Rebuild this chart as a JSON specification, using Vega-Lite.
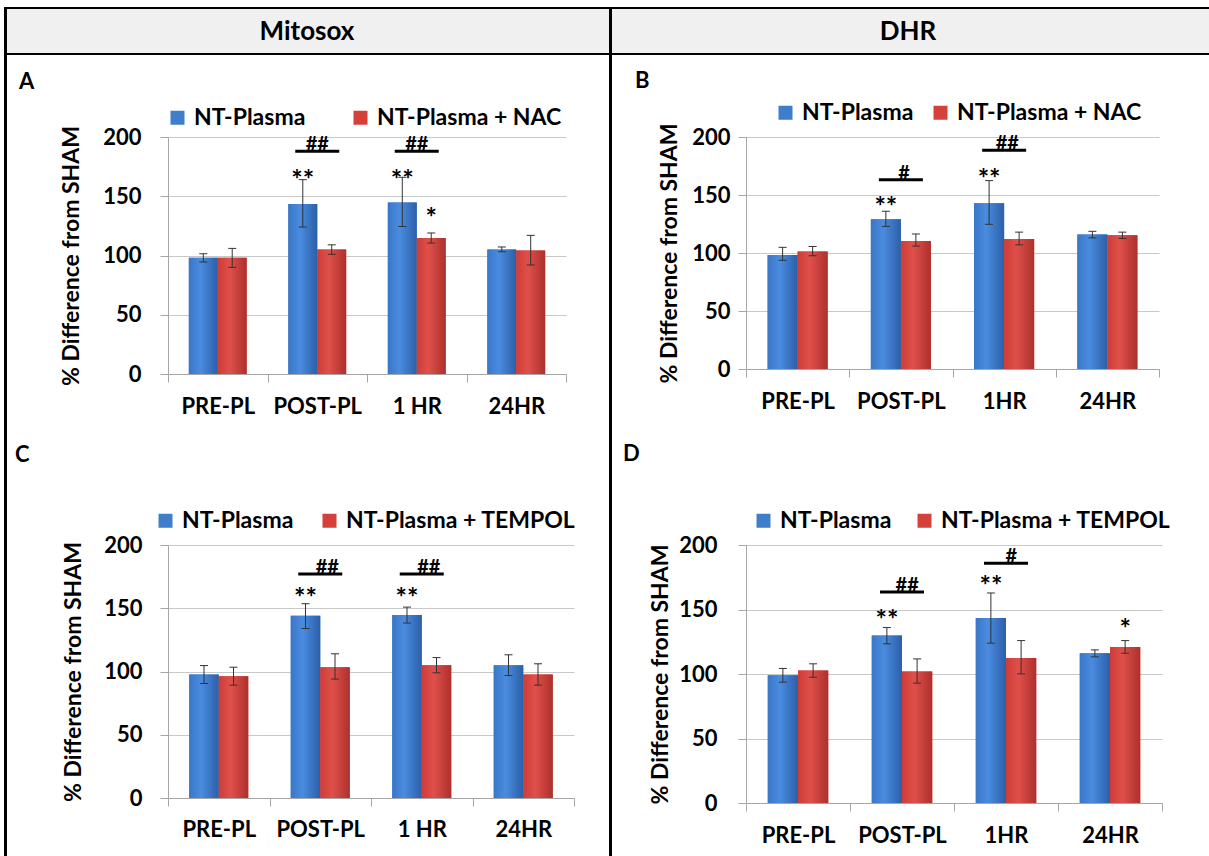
{
"$schema": "https://vega.github.io/schema/vega-lite/v6.json",
"padding": {"left": 4, "top": 2, "right": 0, "bottom": 0},
"background": "white",
"config": {
  "font": "Lato",
  "view": {"stroke": null},
  "axis": {"labelFont": "Lato", "titleFont": "Lato", "labelFontWeight": "bold", "titleFontWeight": "bold", "labelColor": "#000", "titleColor": "#000", "domainColor": "#a6a6a6", "tickColor": "#a6a6a6", "gridColor": "#c8c8c8"},
  "legend": {"labelFont": "Lato", "labelFontWeight": "bold", "labelColor": "#000", "labelLimit": 400},
  "title": {"font": "Lato", "fontWeight": "bold", "color": "#000"},
  "tick": {"opacity": 1}
},
"columns": 8,
"spacing": 0,
"bounds": "flush",
"align": "each",
"resolve": {"scale": {"color": "independent", "xOffset": "independent", "x": "independent", "y": "independent"}, "legend": {"color": "independent"}},
"concat": [
  {"width": 3, "height": 2, "view": {"fill": "#000"}, "data": {"values": [{}]}, "mark": {"type": "text", "text": ""}, "encoding": {}},
  {"width": 161, "height": 2, "view": {"fill": "#000"}, "data": {"values": [{}]}, "mark": {"type": "text", "text": ""}, "encoding": {}},
  {"width": 406, "height": 2, "view": {"fill": "#000"}, "data": {"values": [{}]}, "mark": {"type": "text", "text": ""}, "encoding": {}},
  {"width": 35, "height": 2, "view": {"fill": "#000"}, "data": {"values": [{}]}, "mark": {"type": "text", "text": ""}, "encoding": {}},
  {"width": 3, "height": 2, "view": {"fill": "#000"}, "data": {"values": [{}]}, "mark": {"type": "text", "text": ""}, "encoding": {}},
  {"width": 134, "height": 2, "view": {"fill": "#000"}, "data": {"values": [{}]}, "mark": {"type": "text", "text": ""}, "encoding": {}},
  {"width": 416, "height": 2, "view": {"fill": "#000"}, "data": {"values": [{}]}, "mark": {"type": "text", "text": ""}, "encoding": {}},
  {"width": 48, "height": 2, "view": {"fill": "#000"}, "data": {"values": [{}]}, "mark": {"type": "text", "text": ""}, "encoding": {}},

  {"width": 3, "height": 44, "view": {"fill": "#000"}, "data": {"values": [{}]}, "mark": {"type": "text", "text": ""}, "encoding": {}},
  {"width": 161, "height": 44, "view": {"fill": "#f0f0f0"}, "data": {"values": [{}]}, "mark": {"type": "text", "text": ""}, "encoding": {}},
  {"width": 406, "height": 44, "view": {"fill": "#f0f0f0"}, "data": {"values": [{"t": "Mitosox"}]}, "mark": {"type": "text", "fontSize": 26, "fontWeight": "bold", "baseline": "middle", "color": "#000", "dx": -64, "dy": 1}, "encoding": {"text": {"field": "t"}}},
  {"width": 35, "height": 44, "view": {"fill": "#f0f0f0"}, "data": {"values": [{}]}, "mark": {"type": "text", "text": ""}, "encoding": {}},
  {"width": 3, "height": 44, "view": {"fill": "#000"}, "data": {"values": [{}]}, "mark": {"type": "text", "text": ""}, "encoding": {}},
  {"width": 134, "height": 44, "view": {"fill": "#f0f0f0"}, "data": {"values": [{}]}, "mark": {"type": "text", "text": ""}, "encoding": {}},
  {"width": 416, "height": 44, "view": {"fill": "#f0f0f0"}, "data": {"values": [{"t": "DHR"}]}, "mark": {"type": "text", "fontSize": 26, "fontWeight": "bold", "baseline": "middle", "color": "#000", "dx": -46, "dy": 1}, "encoding": {"text": {"field": "t"}}},
  {"width": 48, "height": 44, "view": {"fill": "#f0f0f0"}, "data": {"values": [{}]}, "mark": {"type": "text", "text": ""}, "encoding": {}},

  {"width": 3, "height": 2, "view": {"fill": "#000"}, "data": {"values": [{}]}, "mark": {"type": "text", "text": ""}, "encoding": {}},
  {"width": 161, "height": 2, "view": {"fill": "#000"}, "data": {"values": [{}]}, "mark": {"type": "text", "text": ""}, "encoding": {}},
  {"width": 406, "height": 2, "view": {"fill": "#000"}, "data": {"values": [{}]}, "mark": {"type": "text", "text": ""}, "encoding": {}},
  {"width": 35, "height": 2, "view": {"fill": "#000"}, "data": {"values": [{}]}, "mark": {"type": "text", "text": ""}, "encoding": {}},
  {"width": 3, "height": 2, "view": {"fill": "#000"}, "data": {"values": [{}]}, "mark": {"type": "text", "text": ""}, "encoding": {}},
  {"width": 134, "height": 2, "view": {"fill": "#000"}, "data": {"values": [{}]}, "mark": {"type": "text", "text": ""}, "encoding": {}},
  {"width": 416, "height": 2, "view": {"fill": "#000"}, "data": {"values": [{}]}, "mark": {"type": "text", "text": ""}, "encoding": {}},
  {"width": 48, "height": 2, "view": {"fill": "#000"}, "data": {"values": [{}]}, "mark": {"type": "text", "text": ""}, "encoding": {}},

  {"width": 3, "height": 82, "view": {"fill": "#000"}, "data": {"values": [{}]}, "mark": {"type": "text", "text": ""}, "encoding": {}},
  {"width": 161, "height": 82, "data": {"values": [{}]}, "mark": {"type": "text", "text": ""}, "encoding": {}},
  {"width": 406, "height": 82, "data": {"values": [{}]}, "mark": {"type": "text", "text": ""}, "encoding": {}},
  {"width": 35, "height": 82, "data": {"values": [{}]}, "mark": {"type": "text", "text": ""}, "encoding": {}},
  {"width": 3, "height": 82, "view": {"fill": "#000"}, "data": {"values": [{}]}, "mark": {"type": "text", "text": ""}, "encoding": {}},
  {"width": 134, "height": 82, "data": {"values": [{}]}, "mark": {"type": "text", "text": ""}, "encoding": {}},
  {"width": 416, "height": 82, "data": {"values": [{}]}, "mark": {"type": "text", "text": ""}, "encoding": {}},
  {"width": 48, "height": 82, "data": {"values": [{}]}, "mark": {"type": "text", "text": ""}, "encoding": {}},

  {"width": 3, "height": 237, "view": {"fill": "#000"}, "data": {"values": [{}]}, "mark": {"type": "text", "text": ""}, "encoding": {}},
  {"width": 161, "height": 237, "data": {"values": [{}]}, "mark": {"type": "text", "text": ""}, "encoding": {}},
  {"width": 398, "height": 237,
   "title": {"text": "A", "anchor": "start", "frame": "group", "dx": -149, "dy": -12, "fontSize": 22, "offset": 0},
   "data": {"values": [
     {"cat":"PRE-PL","series":"NT-Plasma","v":98,"lo":94.5,"hi":101.5},
     {"cat":"PRE-PL","series":"NT-Plasma + NAC","v":98,"lo":90,"hi":106},
     {"cat":"POST-PL","series":"NT-Plasma","v":143.5,"lo":124,"hi":164},
     {"cat":"POST-PL","series":"NT-Plasma + NAC","v":105,"lo":101,"hi":109},
     {"cat":"1 HR","series":"NT-Plasma","v":144.8,"lo":124.5,"hi":166},
     {"cat":"1 HR","series":"NT-Plasma + NAC","v":114.8,"lo":110.5,"hi":119},
     {"cat":"24HR","series":"NT-Plasma","v":105,"lo":103.2,"hi":107.2},
     {"cat":"24HR","series":"NT-Plasma + NAC","v":104.2,"lo":92,"hi":117}
   ]},
   "encoding": {"x": {"field": "cat", "type": "nominal", "sort": ["PRE-PL","POST-PL","1 HR","24HR"], "scale": {"paddingInner": 0, "paddingOuter": 0}, "axis": {"title": null, "labelAngle": 0, "tickBand": "extent", "tickSize": 8, "labelPadding": 14, "labelFontSize": 22, "grid": false}}},
   "layer": [
     {"mark": {"type": "bar"}, "encoding": {
       "xOffset": {"field": "series", "type": "nominal", "sort": ["NT-Plasma","NT-Plasma + NAC"], "scale": {"paddingInner": 0, "paddingOuter": 0.72}},
       "y": {"field": "v", "type": "quantitative", "title": "% Difference from SHAM", "scale": {"domain": [0, 200], "nice": false}, "axis": {"values": [0,50,100,150,200], "tickSize": 8, "labelPadding": 19, "labelFontSize": 22, "titleFontSize": 23, "titlePadding": 19}},
       "color": {"field": "series", "type": "nominal", "sort": ["NT-Plasma","NT-Plasma + NAC"], "scale": {"range": ["#3e7ecb", "#d5403b"]}, "legend": {"title": null, "orient": "none", "legendX": -2, "legendY": -31, "direction": "horizontal", "symbolType": "square", "symbolSize": 196, "symbolStrokeWidth": 0, "labelFontSize": 23, "labelOffset": 5, "columnPadding": 43}}}},
     {"mark": {"type": "bar"}, "encoding": {
       "xOffset": {"field": "series", "type": "nominal", "sort": ["NT-Plasma","NT-Plasma + NAC"]},
       "y": {"field": "v", "type": "quantitative", "title": "% Difference from SHAM"},
       "fill": {"condition": {"test": "datum.series === 'NT-Plasma'", "value": {"gradient": "linear", "x1": 0, "y1": 0, "x2": 1, "y2": 0, "stops": [{"offset": 0, "color": "#3a76c6"}, {"offset": 0.4, "color": "#4a8ce0"}, {"offset": 1, "color": "#2c5fa8"}]}}, "value": {"gradient": "linear", "x1": 0, "y1": 0, "x2": 1, "y2": 0, "stops": [{"offset": 0, "color": "#cc3d38"}, {"offset": 0.4, "color": "#e0504b"}, {"offset": 1, "color": "#ad302c"}]}}}},
     {"mark": {"type": "rule", "color": "#333", "strokeWidth": 1}, "encoding": {
       "xOffset": {"field": "series", "type": "nominal", "sort": ["NT-Plasma","NT-Plasma + NAC"]},
       "y": {"field": "lo", "type": "quantitative", "title": "% Difference from SHAM"}, "y2": {"field": "hi"}}},
     {"mark": {"type": "tick", "color": "#333", "size": 8, "thickness": 1}, "encoding": {
       "xOffset": {"field": "series", "type": "nominal", "sort": ["NT-Plasma","NT-Plasma + NAC"]},
       "y": {"field": "lo", "type": "quantitative", "title": "% Difference from SHAM"}}},
     {"mark": {"type": "tick", "color": "#333", "size": 8, "thickness": 1}, "encoding": {
       "xOffset": {"field": "series", "type": "nominal", "sort": ["NT-Plasma","NT-Plasma + NAC"]},
       "y": {"field": "hi", "type": "quantitative", "title": "% Difference from SHAM"}}},
     {"data": {"values": [
       {"cat":"POST-PL","series":"NT-Plasma","y":168,"t":"**"},
       {"cat":"1 HR","series":"NT-Plasma","y":168,"t":"**"},
       {"cat":"1 HR","series":"NT-Plasma + NAC","y":136,"t":"*"}]},
      "mark": {"type": "text", "fontSize": 27, "fontWeight": "bold", "baseline": "middle", "dy": 6, "color": "#000"},
      "encoding": {"xOffset": {"field": "series", "type": "nominal", "sort": ["NT-Plasma","NT-Plasma + NAC"]}, "y": {"field": "y", "type": "quantitative", "title": "% Difference from SHAM"}, "text": {"field": "t"}}},
     {"data": {"values": [{"cat":"POST-PL","y":188,"t":"##"},{"cat":"1 HR","y":188,"t":"##"}]},
      "mark": {"type": "tick", "color": "#000", "size": 44, "thickness": 3},
      "encoding": {"x": {"field": "cat", "type": "nominal", "sort": ["PRE-PL","POST-PL","1 HR","24HR"], "bandPosition": 0.5}, "y": {"field": "y", "type": "quantitative", "title": "% Difference from SHAM"}}},
     {"data": {"values": [{"cat":"POST-PL","y":188,"t":"##"},{"cat":"1 HR","y":188,"t":"##"}]},
      "mark": {"type": "text", "fontSize": 20, "fontWeight": "bold", "baseline": "alphabetic", "dy": 0, "color": "#000"},
      "encoding": {"x": {"field": "cat", "type": "nominal", "sort": ["PRE-PL","POST-PL","1 HR","24HR"], "bandPosition": 0.5}, "y": {"field": "y", "type": "quantitative", "title": "% Difference from SHAM"}, "text": {"field": "t"}}}
   ]},
  {"width": 35, "height": 237, "data": {"values": [{}]}, "mark": {"type": "text", "text": ""}, "encoding": {}},
  {"width": 3, "height": 237, "view": {"fill": "#000"}, "data": {"values": [{}]}, "mark": {"type": "text", "text": ""}, "encoding": {}},
  {"width": 134, "height": 237, "data": {"values": [{}]}, "mark": {"type": "text", "text": ""}, "encoding": {}},
  {"width": 413, "height": 232,
   "title": {"text": "B", "anchor": "start", "frame": "group", "dx": -111, "dy": -8, "fontSize": 22, "offset": 0},
   "data": {"values": [
     {"cat":"PRE-PL","series":"NT-Plasma","v":98.3,"lo":93.7,"hi":104.9},
     {"cat":"PRE-PL","series":"NT-Plasma + NAC","v":101.4,"lo":97.7,"hi":105.5},
     {"cat":"POST-PL","series":"NT-Plasma","v":129,"lo":123,"hi":136},
     {"cat":"POST-PL","series":"NT-Plasma + NAC","v":110.3,"lo":106,"hi":116.4},
     {"cat":"1HR","series":"NT-Plasma","v":142.8,"lo":124.7,"hi":162.4},
     {"cat":"1HR","series":"NT-Plasma + NAC","v":112,"lo":107,"hi":118},
     {"cat":"24HR","series":"NT-Plasma","v":116,"lo":113,"hi":118.7},
     {"cat":"24HR","series":"NT-Plasma + NAC","v":115.2,"lo":112.6,"hi":118}
   ]},
   "encoding": {"x": {"field": "cat", "type": "nominal", "sort": ["PRE-PL","POST-PL","1HR","24HR"], "scale": {"paddingInner": 0, "paddingOuter": 0}, "axis": {"title": null, "labelAngle": 0, "tickBand": "extent", "tickSize": 8, "labelPadding": 14, "labelFontSize": 22, "grid": false}}},
   "layer": [
     {"mark": {"type": "bar"}, "encoding": {
       "xOffset": {"field": "series", "type": "nominal", "sort": ["NT-Plasma","NT-Plasma + NAC"], "scale": {"paddingInner": 0, "paddingOuter": 0.72}},
       "y": {"field": "v", "type": "quantitative", "title": "% Difference from SHAM", "scale": {"domain": [0, 200], "nice": false}, "axis": {"values": [0,50,100,150,200], "tickSize": 8, "labelPadding": 8, "labelFontSize": 22, "titleFontSize": 23, "titlePadding": 10}},
       "color": {"field": "series", "type": "nominal", "sort": ["NT-Plasma","NT-Plasma + NAC"], "scale": {"range": ["#3e7ecb", "#d5403b"]}, "legend": {"title": null, "orient": "none", "legendX": 28, "legendY": -36, "direction": "horizontal", "symbolType": "square", "symbolSize": 196, "symbolStrokeWidth": 0, "labelFontSize": 23, "labelOffset": 5, "columnPadding": 15}}}},
     {"mark": {"type": "bar"}, "encoding": {
       "xOffset": {"field": "series", "type": "nominal", "sort": ["NT-Plasma","NT-Plasma + NAC"]},
       "y": {"field": "v", "type": "quantitative", "title": "% Difference from SHAM"},
       "fill": {"condition": {"test": "datum.series === 'NT-Plasma'", "value": {"gradient": "linear", "x1": 0, "y1": 0, "x2": 1, "y2": 0, "stops": [{"offset": 0, "color": "#3a76c6"}, {"offset": 0.4, "color": "#4a8ce0"}, {"offset": 1, "color": "#2c5fa8"}]}}, "value": {"gradient": "linear", "x1": 0, "y1": 0, "x2": 1, "y2": 0, "stops": [{"offset": 0, "color": "#cc3d38"}, {"offset": 0.4, "color": "#e0504b"}, {"offset": 1, "color": "#ad302c"}]}}}},
     {"mark": {"type": "rule", "color": "#333", "strokeWidth": 1}, "encoding": {
       "xOffset": {"field": "series", "type": "nominal", "sort": ["NT-Plasma","NT-Plasma + NAC"]},
       "y": {"field": "lo", "type": "quantitative", "title": "% Difference from SHAM"}, "y2": {"field": "hi"}}},
     {"mark": {"type": "tick", "color": "#333", "size": 8, "thickness": 1}, "encoding": {
       "xOffset": {"field": "series", "type": "nominal", "sort": ["NT-Plasma","NT-Plasma + NAC"]},
       "y": {"field": "lo", "type": "quantitative", "title": "% Difference from SHAM"}}},
     {"mark": {"type": "tick", "color": "#333", "size": 8, "thickness": 1}, "encoding": {
       "xOffset": {"field": "series", "type": "nominal", "sort": ["NT-Plasma","NT-Plasma + NAC"]},
       "y": {"field": "hi", "type": "quantitative", "title": "% Difference from SHAM"}}},
     {"data": {"values": [
       {"cat":"POST-PL","series":"NT-Plasma","y":143.7,"t":"**"},
       {"cat":"1HR","series":"NT-Plasma","y":168.4,"t":"**"}]},
      "mark": {"type": "text", "fontSize": 27, "fontWeight": "bold", "baseline": "middle", "dy": 6, "color": "#000"},
      "encoding": {"xOffset": {"field": "series", "type": "nominal", "sort": ["NT-Plasma","NT-Plasma + NAC"]}, "y": {"field": "y", "type": "quantitative", "title": "% Difference from SHAM"}, "text": {"field": "t"}}},
     {"data": {"values": [{"cat":"POST-PL","y":163.2,"t":"#"},{"cat":"1HR","y":188.5,"t":"##"}]},
      "mark": {"type": "tick", "color": "#000", "size": 44, "thickness": 3},
      "encoding": {"x": {"field": "cat", "type": "nominal", "sort": ["PRE-PL","POST-PL","1HR","24HR"], "bandPosition": 0.53}, "y": {"field": "y", "type": "quantitative", "title": "% Difference from SHAM"}}},
     {"data": {"values": [{"cat":"POST-PL","y":163.2,"t":"#"},{"cat":"1HR","y":188.5,"t":"##"}]},
      "mark": {"type": "text", "fontSize": 20, "fontWeight": "bold", "baseline": "alphabetic", "dy": 0, "color": "#000"},
      "encoding": {"x": {"field": "cat", "type": "nominal", "sort": ["PRE-PL","POST-PL","1HR","24HR"], "bandPosition": 0.53}, "y": {"field": "y", "type": "quantitative", "title": "% Difference from SHAM"}, "text": {"field": "t"}}}
   ]},
  {"width": 48, "height": 237, "data": {"values": [{}]}, "mark": {"type": "text", "text": ""}, "encoding": {}},

  {"width": 3, "height": 171, "view": {"fill": "#000"}, "data": {"values": [{}]}, "mark": {"type": "text", "text": ""}, "encoding": {}},
  {"width": 161, "height": 171, "data": {"values": [{}]}, "mark": {"type": "text", "text": ""}, "encoding": {}},
  {"width": 406, "height": 171, "data": {"values": [{}]}, "mark": {"type": "text", "text": ""}, "encoding": {}},
  {"width": 35, "height": 171, "data": {"values": [{}]}, "mark": {"type": "text", "text": ""}, "encoding": {}},
  {"width": 3, "height": 171, "view": {"fill": "#000"}, "data": {"values": [{}]}, "mark": {"type": "text", "text": ""}, "encoding": {}},
  {"width": 134, "height": 171, "data": {"values": [{}]}, "mark": {"type": "text", "text": ""}, "encoding": {}},
  {"width": 416, "height": 171, "data": {"values": [{}]}, "mark": {"type": "text", "text": ""}, "encoding": {}},
  {"width": 48, "height": 171, "data": {"values": [{}]}, "mark": {"type": "text", "text": ""}, "encoding": {}},

  {"width": 3, "height": 320, "view": {"fill": "#000"}, "data": {"values": [{}]}, "mark": {"type": "text", "text": ""}, "encoding": {}},
  {"width": 161, "height": 1, "data": {"values": [{}]}, "mark": {"type": "text", "text": ""}, "encoding": {}},
  {"width": 406, "height": 253,
   "title": {"text": "C", "anchor": "start", "frame": "group", "dx": -153, "dy": -42, "fontSize": 22, "offset": 0},
   "data": {"values": [
     {"cat":"PRE-PL","series":"NT-Plasma","v":97.6,"lo":90.5,"hi":104.7},
     {"cat":"PRE-PL","series":"NT-Plasma + TEMPOL","v":96.3,"lo":89.2,"hi":103.4},
     {"cat":"POST-PL","series":"NT-Plasma","v":144,"lo":134,"hi":153.6},
     {"cat":"POST-PL","series":"NT-Plasma + TEMPOL","v":103.4,"lo":94,"hi":114},
     {"cat":"1 HR","series":"NT-Plasma","v":144.6,"lo":138.3,"hi":150.9},
     {"cat":"1 HR","series":"NT-Plasma + TEMPOL","v":105,"lo":99,"hi":111},
     {"cat":"24HR","series":"NT-Plasma","v":105,"lo":96.8,"hi":113.2},
     {"cat":"24HR","series":"NT-Plasma + TEMPOL","v":97.6,"lo":89.2,"hi":106.1}
   ]},
   "encoding": {"x": {"field": "cat", "type": "nominal", "sort": ["PRE-PL","POST-PL","1 HR","24HR"], "scale": {"paddingInner": 0, "paddingOuter": 0}, "axis": {"title": null, "labelAngle": 0, "tickBand": "extent", "tickSize": 8, "labelPadding": 13, "labelFontSize": 22, "grid": false}}},
   "layer": [
     {"mark": {"type": "bar"}, "encoding": {
       "xOffset": {"field": "series", "type": "nominal", "sort": ["NT-Plasma","NT-Plasma + TEMPOL"], "scale": {"paddingInner": 0, "paddingOuter": 0.72}},
       "y": {"field": "v", "type": "quantitative", "title": "% Difference from SHAM", "scale": {"domain": [0, 200], "nice": false}, "axis": {"values": [0,50,100,150,200], "tickSize": 8, "labelPadding": 18, "labelFontSize": 22, "titleFontSize": 23, "titlePadding": 18}},
       "color": {"field": "series", "type": "nominal", "sort": ["NT-Plasma","NT-Plasma + TEMPOL"], "scale": {"range": ["#3e7ecb", "#d5403b"]}, "legend": {"title": null, "orient": "none", "legendX": -14, "legendY": -36, "direction": "horizontal", "symbolType": "square", "symbolSize": 196, "symbolStrokeWidth": 0, "labelFontSize": 23, "labelOffset": 5, "columnPadding": 24}}}},
     {"mark": {"type": "bar"}, "encoding": {
       "xOffset": {"field": "series", "type": "nominal", "sort": ["NT-Plasma","NT-Plasma + TEMPOL"]},
       "y": {"field": "v", "type": "quantitative", "title": "% Difference from SHAM"},
       "fill": {"condition": {"test": "datum.series === 'NT-Plasma'", "value": {"gradient": "linear", "x1": 0, "y1": 0, "x2": 1, "y2": 0, "stops": [{"offset": 0, "color": "#3a76c6"}, {"offset": 0.4, "color": "#4a8ce0"}, {"offset": 1, "color": "#2c5fa8"}]}}, "value": {"gradient": "linear", "x1": 0, "y1": 0, "x2": 1, "y2": 0, "stops": [{"offset": 0, "color": "#cc3d38"}, {"offset": 0.4, "color": "#e0504b"}, {"offset": 1, "color": "#ad302c"}]}}}},
     {"mark": {"type": "rule", "color": "#333", "strokeWidth": 1}, "encoding": {
       "xOffset": {"field": "series", "type": "nominal", "sort": ["NT-Plasma","NT-Plasma + TEMPOL"]},
       "y": {"field": "lo", "type": "quantitative", "title": "% Difference from SHAM"}, "y2": {"field": "hi"}}},
     {"mark": {"type": "tick", "color": "#333", "size": 8, "thickness": 1}, "encoding": {
       "xOffset": {"field": "series", "type": "nominal", "sort": ["NT-Plasma","NT-Plasma + TEMPOL"]},
       "y": {"field": "lo", "type": "quantitative", "title": "% Difference from SHAM"}}},
     {"mark": {"type": "tick", "color": "#333", "size": 8, "thickness": 1}, "encoding": {
       "xOffset": {"field": "series", "type": "nominal", "sort": ["NT-Plasma","NT-Plasma + TEMPOL"]},
       "y": {"field": "hi", "type": "quantitative", "title": "% Difference from SHAM"}}},
     {"data": {"values": [
       {"cat":"POST-PL","series":"NT-Plasma","y":161.7,"t":"**"},
       {"cat":"1 HR","series":"NT-Plasma","y":161.7,"t":"**"}]},
      "mark": {"type": "text", "fontSize": 27, "fontWeight": "bold", "baseline": "middle", "dy": 6, "color": "#000"},
      "encoding": {"xOffset": {"field": "series", "type": "nominal", "sort": ["NT-Plasma","NT-Plasma + TEMPOL"]}, "y": {"field": "y", "type": "quantitative", "title": "% Difference from SHAM"}, "text": {"field": "t"}}},
     {"data": {"values": [{"cat":"POST-PL","y":177,"t":"##"},{"cat":"1 HR","y":177,"t":"##"}]},
      "mark": {"type": "tick", "color": "#000", "size": 44, "thickness": 3},
      "encoding": {"x": {"field": "cat", "type": "nominal", "sort": ["PRE-PL","POST-PL","1 HR","24HR"], "bandPosition": 0.55}, "y": {"field": "y", "type": "quantitative", "title": "% Difference from SHAM"}}},
     {"data": {"values": [{"cat":"POST-PL","y":177,"t":"##"},{"cat":"1 HR","y":177,"t":"##"}]},
      "mark": {"type": "text", "fontSize": 20, "fontWeight": "bold", "baseline": "alphabetic", "dy": 0, "color": "#000"},
      "encoding": {"x": {"field": "cat", "type": "nominal", "sort": ["PRE-PL","POST-PL","1 HR","24HR"], "bandPosition": 0.57}, "y": {"field": "y", "type": "quantitative", "title": "% Difference from SHAM"}, "text": {"field": "t"}}}
   ]},
  {"width": 35, "height": 1, "data": {"values": [{}]}, "mark": {"type": "text", "text": ""}, "encoding": {}},
  {"width": 3, "height": 320, "view": {"fill": "#000"}, "data": {"values": [{}]}, "mark": {"type": "text", "text": ""}, "encoding": {}},
  {"width": 134, "height": 1, "data": {"values": [{}]}, "mark": {"type": "text", "text": ""}, "encoding": {}},
  {"width": 416, "height": 258,
   "title": {"text": "D", "anchor": "start", "frame": "group", "dx": -123, "dy": -43, "fontSize": 22, "offset": 0},
   "data": {"values": [
     {"cat":"PRE-PL","series":"NT-Plasma","v":99.1,"lo":93.7,"hi":104.3},
     {"cat":"PRE-PL","series":"NT-Plasma + TEMPOL","v":102.7,"lo":97.5,"hi":107.9},
     {"cat":"POST-PL","series":"NT-Plasma","v":129.8,"lo":123.4,"hi":136},
     {"cat":"POST-PL","series":"NT-Plasma + TEMPOL","v":101.9,"lo":92.9,"hi":111.7},
     {"cat":"1HR","series":"NT-Plasma","v":143.5,"lo":123.9,"hi":162.8},
     {"cat":"1HR","series":"NT-Plasma + TEMPOL","v":112.5,"lo":100.1,"hi":125.9},
     {"cat":"24HR","series":"NT-Plasma","v":116.1,"lo":113.3,"hi":118.7},
     {"cat":"24HR","series":"NT-Plasma + TEMPOL","v":121,"lo":116.1,"hi":125.9}
   ]},
   "encoding": {"x": {"field": "cat", "type": "nominal", "sort": ["PRE-PL","POST-PL","1HR","24HR"], "scale": {"paddingInner": 0, "paddingOuter": 0}, "axis": {"title": null, "labelAngle": 0, "tickBand": "extent", "tickSize": 8, "labelPadding": 14, "labelFontSize": 22, "grid": false}}},
   "layer": [
     {"mark": {"type": "bar"}, "encoding": {
       "xOffset": {"field": "series", "type": "nominal", "sort": ["NT-Plasma","NT-Plasma + TEMPOL"], "scale": {"paddingInner": 0, "paddingOuter": 0.72}},
       "y": {"field": "v", "type": "quantitative", "title": "% Difference from SHAM", "scale": {"domain": [0, 200], "nice": false}, "axis": {"values": [0,50,100,150,200], "tickSize": 8, "labelPadding": 21, "labelFontSize": 22, "titleFontSize": 23, "titlePadding": 6}},
       "color": {"field": "series", "type": "nominal", "sort": ["NT-Plasma","NT-Plasma + TEMPOL"], "scale": {"range": ["#3e7ecb", "#d5403b"]}, "legend": {"title": null, "orient": "none", "legendX": 6, "legendY": -36, "direction": "horizontal", "symbolType": "square", "symbolSize": 196, "symbolStrokeWidth": 0, "labelFontSize": 23, "labelOffset": 5, "columnPadding": 21}}}},
     {"mark": {"type": "bar"}, "encoding": {
       "xOffset": {"field": "series", "type": "nominal", "sort": ["NT-Plasma","NT-Plasma + TEMPOL"]},
       "y": {"field": "v", "type": "quantitative", "title": "% Difference from SHAM"},
       "fill": {"condition": {"test": "datum.series === 'NT-Plasma'", "value": {"gradient": "linear", "x1": 0, "y1": 0, "x2": 1, "y2": 0, "stops": [{"offset": 0, "color": "#3a76c6"}, {"offset": 0.4, "color": "#4a8ce0"}, {"offset": 1, "color": "#2c5fa8"}]}}, "value": {"gradient": "linear", "x1": 0, "y1": 0, "x2": 1, "y2": 0, "stops": [{"offset": 0, "color": "#cc3d38"}, {"offset": 0.4, "color": "#e0504b"}, {"offset": 1, "color": "#ad302c"}]}}}},
     {"mark": {"type": "rule", "color": "#333", "strokeWidth": 1}, "encoding": {
       "xOffset": {"field": "series", "type": "nominal", "sort": ["NT-Plasma","NT-Plasma + TEMPOL"]},
       "y": {"field": "lo", "type": "quantitative", "title": "% Difference from SHAM"}, "y2": {"field": "hi"}}},
     {"mark": {"type": "tick", "color": "#333", "size": 8, "thickness": 1}, "encoding": {
       "xOffset": {"field": "series", "type": "nominal", "sort": ["NT-Plasma","NT-Plasma + TEMPOL"]},
       "y": {"field": "lo", "type": "quantitative", "title": "% Difference from SHAM"}}},
     {"mark": {"type": "tick", "color": "#333", "size": 8, "thickness": 1}, "encoding": {
       "xOffset": {"field": "series", "type": "nominal", "sort": ["NT-Plasma","NT-Plasma + TEMPOL"]},
       "y": {"field": "hi", "type": "quantitative", "title": "% Difference from SHAM"}}},
     {"data": {"values": [
       {"cat":"POST-PL","series":"NT-Plasma","y":145.8,"t":"**"},
       {"cat":"1HR","series":"NT-Plasma","y":172.4,"t":"**"},
       {"cat":"24HR","series":"NT-Plasma + TEMPOL","y":138.6,"t":"*"}]},
      "mark": {"type": "text", "fontSize": 27, "fontWeight": "bold", "baseline": "middle", "dy": 6, "color": "#000"},
      "encoding": {"xOffset": {"field": "series", "type": "nominal", "sort": ["NT-Plasma","NT-Plasma + TEMPOL"]}, "y": {"field": "y", "type": "quantitative", "title": "% Difference from SHAM"}, "text": {"field": "t"}}},
     {"data": {"values": [{"cat":"POST-PL","y":163.6,"t":"##"},{"cat":"1HR","y":185.8,"t":"#"}]},
      "mark": {"type": "tick", "color": "#000", "size": 44, "thickness": 3},
      "encoding": {"x": {"field": "cat", "type": "nominal", "sort": ["PRE-PL","POST-PL","1HR","24HR"], "bandPosition": 0.53}, "y": {"field": "y", "type": "quantitative", "title": "% Difference from SHAM"}}},
     {"data": {"values": [{"cat":"POST-PL","y":163.6,"t":"##"},{"cat":"1HR","y":185.8,"t":"#"}]},
      "mark": {"type": "text", "fontSize": 20, "fontWeight": "bold", "baseline": "alphabetic", "dy": 0, "color": "#000"},
      "encoding": {"x": {"field": "cat", "type": "nominal", "sort": ["PRE-PL","POST-PL","1HR","24HR"], "bandPosition": 0.55}, "y": {"field": "y", "type": "quantitative", "title": "% Difference from SHAM"}, "text": {"field": "t"}}}
   ]},
  {"width": 48, "height": 1, "data": {"values": [{}]}, "mark": {"type": "text", "text": ""}, "encoding": {}}
]
}
